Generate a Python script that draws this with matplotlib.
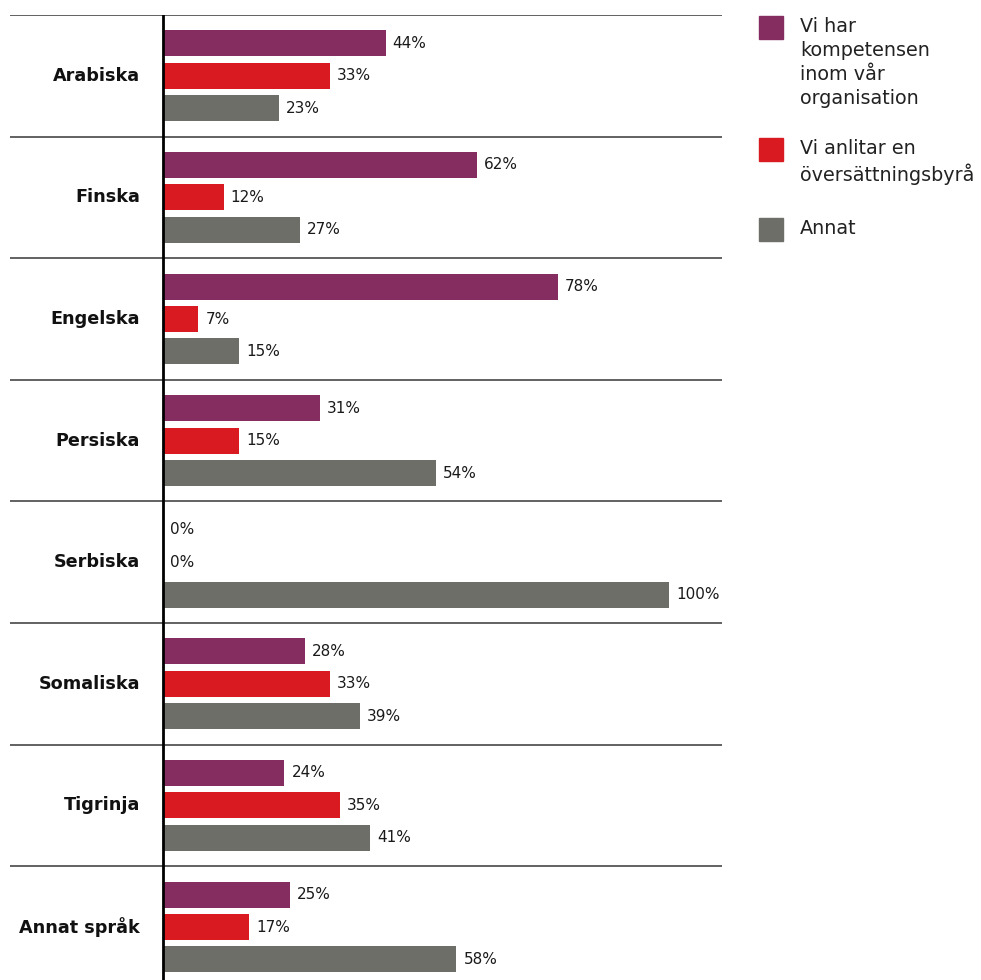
import matplotlib.pyplot as plt
from matplotlib.patches import Rectangle
import numpy as np

plt.rcParams['font.family'] = ['DejaVu Sans']

# survey data (percent)
languages = ['Arabiska', 'Finska', 'Engelska', 'Persiska', 'Serbiska',
             'Somaliska', 'Tigrinja', 'Annat språk']
series_names = ['Vi har\nkompetensen\ninom vår\norganisation',
                'Vi anlitar en\növersättningsbyrå',
                'Annat']
own_staff = [44, 62, 78, 31, 0, 28, 24, 25]
agency = [33, 12, 7, 15, 0, 33, 35, 17]
other = [23, 27, 15, 54, 100, 39, 41, 58]

colors = ['#852D60', '#D91A21', '#6E6E68']

fig = plt.figure(figsize=(9.81, 9.80), dpi=100)
ax = fig.add_axes([10 / 981, 0, 712 / 981, 1 - 15 / 980])

n = len(languages)
centers = np.arange(n) + 0.5
offsets = [-0.267, 0.0, 0.267]
bar_h = 0.214

for vals, off, col in zip([own_staff, agency, other], offsets, colors):
    bars = ax.barh(centers + off, vals, height=bar_h, color=col, zorder=2)
    for b, v in zip(bars, vals):
        ax.annotate(f'{v}%', (b.get_width(), b.get_y() + b.get_height() / 2),
                    xytext=(5, 0), textcoords='offset points',
                    ha='left', va='center', fontsize=11, color='#1a1a1a')

# category labels left of the axis line
for c, name in zip(centers, languages):
    ax.text(-4.5, c, name, ha='right', va='center', fontsize=12.7,
            fontweight='bold', color='#111111')

# separators between groups
for k in range(n):
    ax.axhline(k, color='#555555', lw=1.3, zorder=1)
ax.axvline(0, color='black', lw=2, zorder=3)

ax.set_xlim(-153 / 5.06, 559 / 5.06)
ax.set_ylim((980 - 15) / 121.6, 0)
ax.axis('off')

# legend on the right
sq_y = [16, 138, 218]
for name, col, y in zip(series_names, colors, sq_y):
    fig.patches.append(Rectangle((759 / 981, 1 - (y + 23) / 980), 24 / 981, 23 / 980,
                                 transform=fig.transFigure, color=col))
    fig.text(800 / 981, 1 - (y + 1) / 980, name, ha='left', va='top',
             fontsize=13.8, color='#222222', linespacing=1.33)

fig.savefig('out.png', dpi=100)
